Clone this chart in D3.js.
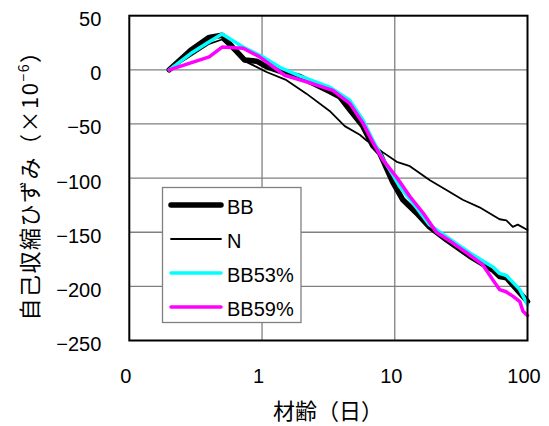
<!DOCTYPE html>
<html>
<head>
<meta charset="utf-8">
<script src="https://cdn.jsdelivr.net/npm/d3@7"></script>
<style>
  body { margin: 0; background: #fff; }
  text { font-family: "Liberation Sans", Arial, "Noto Sans CJK JP", sans-serif; fill: #000; }
</style>
</head>
<body>
<svg id="chart" width="549" height="426"></svg>
<script>
// series data (age in days, strain x10^-6)
var bbDays = [0.2, 0.29, 0.40, 0.50, 0.60, 0.74, 0.91, 1.08, 1.41, 1.92, 2.29, 3.24, 3.85, 4.58, 5.74, 6.83, 7.7, 9.67, 11.5, 14.5, 18.2, 24.5, 36.6, 54.8, 61.6, 69.3, 87.5, 100];
var bbVals = [0, 18, 30, 32, 21, 9, 8, 3, -2, -6, -11, -20, -25, -37, -52, -70, -77, -104, -120, -132, -145, -157, -172, -185, -191, -192, -206, -214];

var nDays = [0.2, 0.40, 0.50, 0.74, 0.9, 1.08, 1.5, 2.16, 3.23, 4.2, 5.45, 6.1, 8.1, 10.35, 13, 18.4, 24.5, 32.5, 43.5, 61.6, 69.3, 77.5, 84.5, 100];
var nVals = [0, 24, 28, 8, 3, -2, -9, -22, -38, -52, -60, -65, -76, -85, -89, -102, -111, -120, -127, -138, -139, -145, -143, -148];

var bb53Days = [0.2, 0.29, 0.40, 0.50, 0.72, 1.01, 1.40, 1.92, 3.24, 4.58, 5.74, 6.83, 8.12, 9.67, 10.9, 13.7, 18.2, 24.5, 36.6, 54.8, 61.6, 69.3, 87.5, 100];
var bb53Vals = [0, 15, 26, 33, 21, 12, 1.5, -5.5, -16, -28, -46, -65, -82, -97, -108, -123, -143, -154, -169, -182, -188, -190, -203, -217];

var bb59Days = [0.2, 0.40, 0.50, 0.72, 0.96, 1.48, 2.16, 3.41, 4.58, 5.74, 6.83, 8.12, 10.3, 13, 16.3, 20.6, 27.4, 36.6, 46, 54.8, 61.6, 69, 77.5, 87.5, 92.5, 100];
var bb59Vals = [0, 12, 21, 20, 12, -5, -11, -19, -31, -49, -67, -83, -99, -117, -132, -150, -160, -171, -180, -194, -203, -205, -209, -214, -223, -227];

var xTicks = [0.1, 1, 10, 100];
var xTickLabels = ["0", "1", "10", "100"];
var yTicks = [50, 0, -50, -100, -150, -200, -250];

var seriesNames = ["BB", "N", "BB53%", "BB59%"];
var seriesColors = ["#000000", "#000000", "#00ffff", "#ff00ff"];
var seriesWidths = [5.5, 1.8, 3.5, 3.5];

var series = [
  {days: bbDays, vals: bbVals},
  {days: nDays, vals: nVals},
  {days: bb53Days, vals: bb53Vals},
  {days: bb59Days, vals: bb59Vals}
];

var svg = d3.select("#chart");
var plotLeft = 129.3, plotRight = 527.5, plotTop = 15.7, plotBottom = 340.5;

var x = d3.scaleLog().domain([0.1, 100]).range([plotLeft, plotRight]);
var y = d3.scaleLinear().domain([-250, 50]).range([plotBottom, plotTop]);

// gridlines
svg.append("g").selectAll("line")
  .data([1, 10])
  .enter().append("line")
  .attr("x1", function(d){ return x(d); })
  .attr("x2", function(d){ return x(d); })
  .attr("y1", plotTop).attr("y2", plotBottom)
  .style("stroke", "#808080").style("stroke-width", 1.3);

svg.append("g").selectAll("line")
  .data([0, -50, -100, -150, -200])
  .enter().append("line")
  .attr("x1", plotLeft).attr("x2", plotRight)
  .attr("y1", function(d){ return y(d); })
  .attr("y2", function(d){ return y(d); })
  .style("stroke", "#808080").style("stroke-width", 1.3);

// lines
var line = d3.line()
  .x(function(d){ return x(d[0]); })
  .y(function(d){ return y(d[1]); });

series.forEach(function(s, i){
  var pts = s.days.map(function(d, j){ return [d, s.vals[j]]; });
  svg.append("path")
    .datum(pts)
    .attr("d", line)
    .style("fill", "none")
    .style("stroke", seriesColors[i])
    .style("stroke-width", seriesWidths[i])
    .style("stroke-linejoin", "round")
    .style("stroke-linecap", "round");
});

// plot border
svg.append("rect")
  .attr("x", plotLeft).attr("y", plotTop)
  .attr("width", plotRight - plotLeft).attr("height", plotBottom - plotTop)
  .style("fill", "none").style("stroke", "#000").style("stroke-width", 2);

// axes
var xAxis = d3.axisBottom(x)
  .tickValues(xTicks)
  .tickSize(0)
  .tickPadding(0)
  .tickFormat(function(d, i){ return xTickLabels[i]; });

var gx = svg.append("g")
  .attr("transform", "translate(0," + plotBottom + ")")
  .call(xAxis);
gx.select(".domain").remove();
gx.selectAll("text")
  .attr("y", 0)
  .attr("dy", 0)
  .attr("transform", "translate(-4,42)")
  .style("font-size", "20px")
  .style("font-family", "'Liberation Sans', Arial, sans-serif");

var yAxis = d3.axisLeft(y)
  .tickValues(yTicks)
  .tickSize(0)
  .tickPadding(0)
  .tickFormat(function(d){ return d < 0 ? "\u2212" + Math.abs(d) : String(d); });

var gy = svg.append("g")
  .attr("transform", "translate(" + plotLeft + ",0)")
  .call(yAxis);
gy.select(".domain").remove();
gy.selectAll("text")
  .attr("x", -28)
  .attr("dy", "0.35em")
  .attr("transform", "translate(0,3)")
  .style("font-size", "20px")
  .style("font-family", "'Liberation Sans', Arial, sans-serif");

// axis titles
svg.append("text")
  .attr("x", 328).attr("y", 419)
  .attr("text-anchor", "middle")
  .style("font-size", "22px")
  .style("font-family", "'Noto Sans CJK JP', sans-serif")
  .text("材齢（日）");

var yt = svg.append("text")
  .attr("transform", "translate(38,180) rotate(-90)")
  .attr("text-anchor", "middle")
  .style("font-size", "22px")
  .style("letter-spacing", "1.5px")
  .style("font-family", "'Noto Sans CJK JP', sans-serif");
yt.append("tspan").text("自己収縮ひずみ（×10");
yt.append("tspan").attr("dy", -9).style("font-size", "14px").text("−6");
yt.append("tspan").attr("dy", 9).text("）");

// legend
var lg = svg.append("g");
lg.append("rect")
  .attr("x", 162.5).attr("y", 187.5)
  .attr("width", 138.5).attr("height", 135)
  .style("fill", "#fff").style("stroke", "#808080").style("stroke-width", 1.3);

var legendY = d3.scalePoint().domain(seriesNames).range([205, 307]);

seriesNames.forEach(function(name, i){
  var ly = legendY(name);
  lg.append("line")
    .attr("x1", 171).attr("x2", 221)
    .attr("y1", ly).attr("y2", ly)
    .style("stroke", seriesColors[i])
    .style("stroke-width", seriesWidths[i])
    .style("stroke-linecap", "round");
  lg.append("text")
    .attr("x", 227).attr("y", ly + 9)
    .style("font-size", "20px")
    .text(name);
});
</script>
</body>
</html>
